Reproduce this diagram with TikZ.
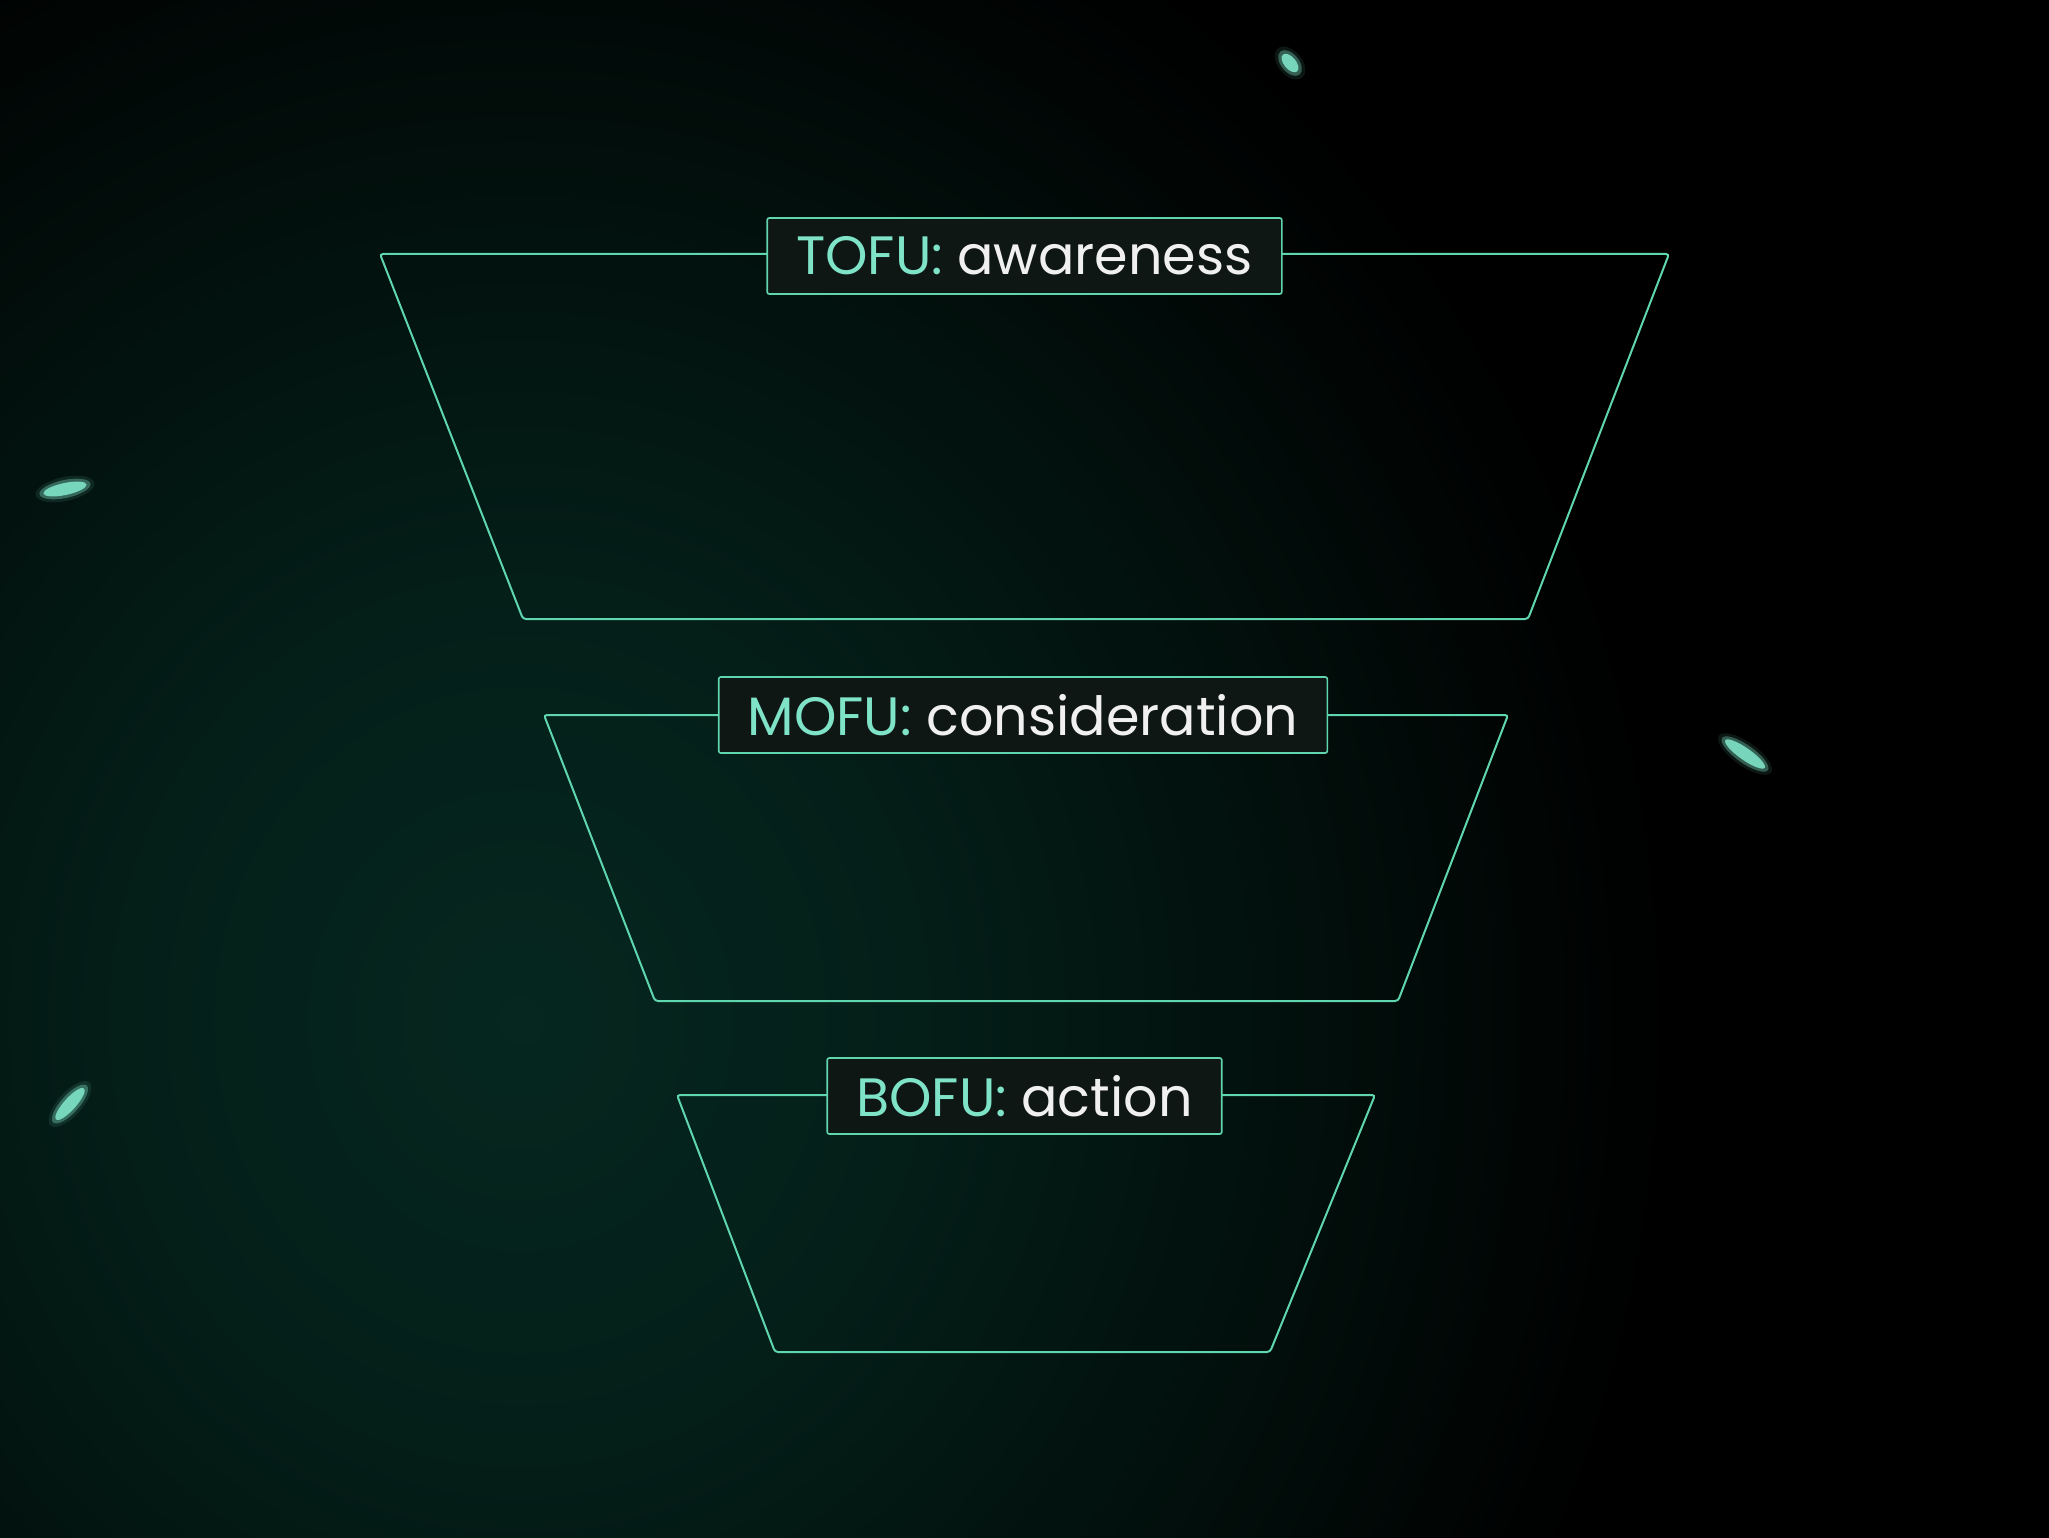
\documentclass[tikz,border=0pt]{standalone}
\usepackage{fontspec}
\setmainfont{Poppins}
\usepackage{tikz}
\usetikzlibrary{positioning}
\definecolor{mint}{HTML}{5FD6AE}
\definecolor{minttext}{HTML}{7FE3C8}
\definecolor{labelbg}{HTML}{0F1715}
\definecolor{glow}{HTML}{05271F}
\pgfdeclareradialshading{funnelglow}{\pgfpoint{0bp}{0bp}}{%
  color(0bp)=(glow); color(8bp)=(glow!80!black); color(17bp)=(glow!40!black);
  color(25bp)=(black); color(50bp)=(black)}
\tikzset{funnel/.style={draw=mint,line width=2pt,rounded corners=3pt},
  stage/.style={draw=mint,fill=labelbg,rounded corners=2pt,line width=1.6pt,
    inner xsep=29pt,inner ysep=0pt,minimum height=76pt,
    font=\fontsize{54}{64}\selectfont,text=white!94!black},
  spark/.style={fill=minttext,draw=none}}
\newcommand{\stagetag}[1]{\textcolor{minttext}{#1}}

\begin{document}
\begin{tikzpicture}[x=1pt,y=-1pt]
\useasboundingbox (0,0) rectangle (2049,1538);
\fill[black] (0,0) rectangle (2049,1538);
\begin{scope}
\clip (0,0) rectangle (2049,1538);
\shade[shading=funnelglow] (520,1020) ellipse[x radius=1150, y radius=1250];
\end{scope}

% sparks
\foreach \x/\y/\a/\l in {65/489/12/24, 1290/63/-50/13, 1745/754/-35/26, 70/1104/48/23}{
  \fill[spark,opacity=0.1] (\x,\y) ellipse[x radius=\l+6, y radius=12, rotate=\a];
  \fill[spark,opacity=0.35] (\x,\y) ellipse[x radius=\l+2, y radius=9, rotate=\a];
  \fill[spark,opacity=0.9] (\x,\y) ellipse[x radius=\l-2, y radius=6, rotate=\a];
}

% top of funnel
\coordinate (t1) at (380,254);
\coordinate (t2) at (1669,254);
\coordinate (t3) at (1528,619);
\coordinate (t4) at (523,619);
\draw[funnel] (t1) -- (t2) -- (t3) -- (t4) -- cycle;
\node[stage] (tofu) at (1024.5,256) {\stagetag{TOFU:} awareness};

% middle of funnel
\coordinate (m1) at (544,715);
\coordinate (m2) at (1508,715);
\coordinate (m3) at (1398,1001);
\coordinate (m4) at (655,1001);
\draw[funnel] (m1) -- (m2) -- (m3) -- (m4) -- cycle;
\node[stage] (mofu) at (1023,715) {\stagetag{MOFU:} consideration};

% bottom of funnel
\coordinate (b1) at (677,1095);
\coordinate (b2) at (1375,1095);
\coordinate (b3) at (1270,1352);
\coordinate (b4) at (775,1352);
\draw[funnel] (b1) -- (b2) -- (b3) -- (b4) -- cycle;
\node[stage] (bofu) at (1024.5,1096) {\stagetag{BOFU:} action};
\end{tikzpicture}
\end{document}
